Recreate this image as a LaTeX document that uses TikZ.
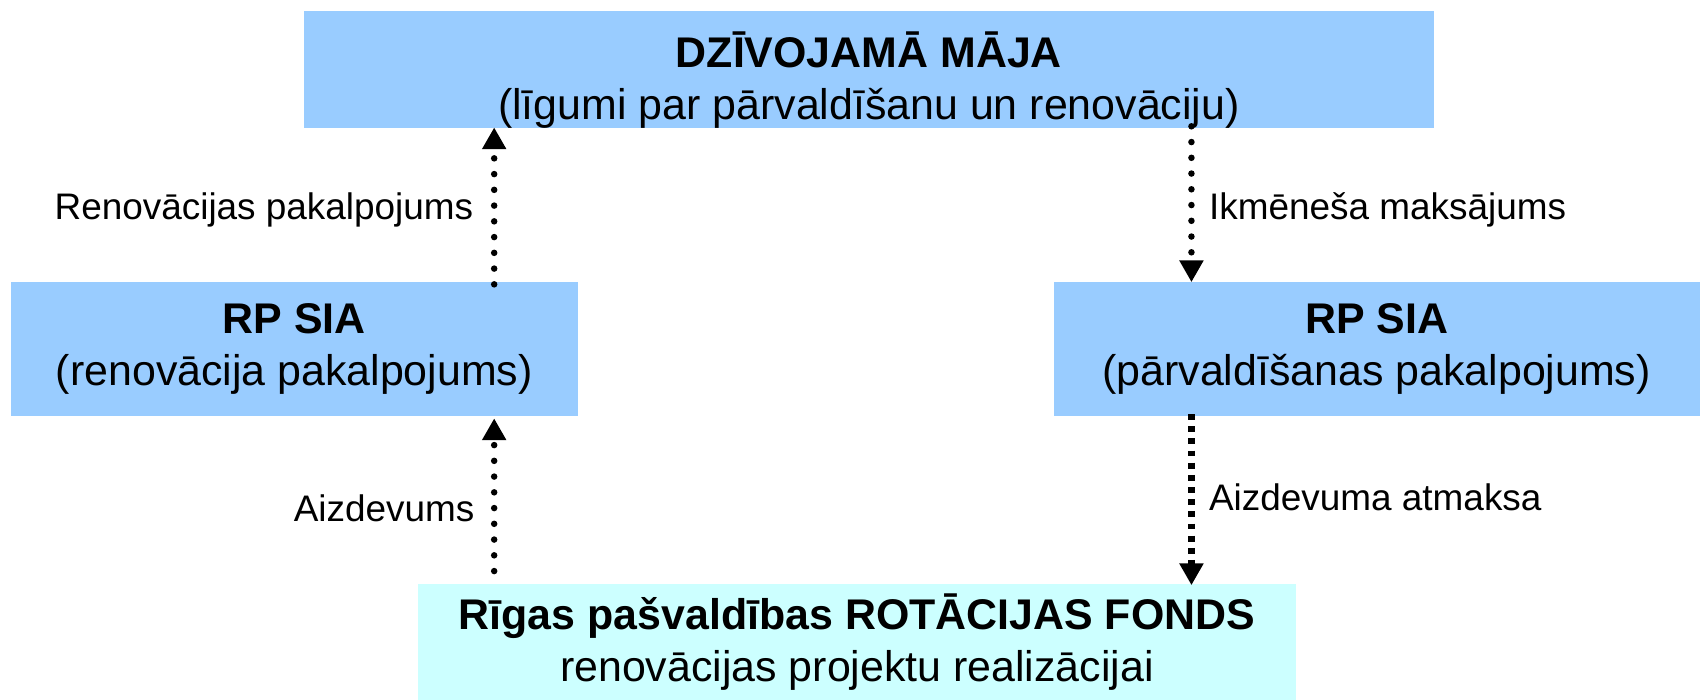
\documentclass[tikz,border=0pt]{standalone}
\usepackage{fontspec}
\setmainfont{Liberation Sans}
\usetikzlibrary{arrows.meta}
\definecolor{boxblue}{RGB}{153,204,255}
\definecolor{boxcyan}{RGB}{204,255,255}
\begin{document}
\begin{tikzpicture}[x=1pt,y=-1pt,
  box/.style={draw=none,inner sep=0pt,align=center,font=\fontsize{39.5}{48}\selectfont},
  lbl/.style={inner sep=0pt,font=\fontsize{34}{40}\selectfont},
  dotarrow/.style={line width=6pt,line cap=round,dash pattern=on 0pt off 14.5pt,
     -{Triangle[width=21pt,length=20pt]}},
  sqarrow/.style={line width=6pt,line cap=butt,dash pattern=on 5.5pt off 5.7pt,
     -{Triangle[width=21pt,length=20pt]}}]
\useasboundingbox (0,0) rectangle (1568,644.5);
\node[box,fill=boxblue,minimum width=1040pt,minimum height=108pt] (top) at (800,64)
  {\rule{0pt}{52pt}\textbf{DZĪVOJAMĀ MĀJA}\\(līgumi par pārvaldīšanu un renovāciju)};
\node[box,fill=boxblue,minimum width=522pt,minimum height=123pt] (left) at (271,321.5)
  {\textbf{RP SIA}\\(renovācija pakalpojums)};
\node[box,fill=boxblue,minimum width=595pt,minimum height=123pt] (right) at (1267.5,321.5)
  {\textbf{RP SIA}\\(pārvaldīšanas pakalpojums)};
\node[box,fill=boxcyan,minimum width=808pt,minimum height=107pt] (bot) at (789,591.5)
  {\textbf{Rīgas pašvaldības ROTĀCIJAS FONDS}\\renovācijas projektu realizācijai};
\coordinate (lx) at (455,0);
\coordinate (rx) at (1097,0);
\draw[dotarrow] ([yshift=-2pt]left.north -| lx) -- ([yshift=1pt]top.south -| lx);
\draw[dotarrow] ([yshift=2pt]top.south -| rx) -- (right.north -| rx);
\draw[dotarrow] ([yshift=12pt]bot.north -| lx) -- ([yshift=-2pt]left.south -| lx);
\draw[sqarrow] ([yshift=2pt]right.south -| rx) -- ([yshift=-1pt]bot.north -| rx);
\node[lbl,anchor=east] (l1) at (436,193) {Renovācijas pakalpojums};
\node[lbl,anchor=west] (l2) at (1113,193) {Ikmēneša maksājums};
\node[lbl,anchor=east] (l3) at (437,468) {Aizdevums};
\node[lbl,anchor=west] (l4) at (1113,458) {Aizdevuma atmaksa};
\end{tikzpicture}
\end{document}
